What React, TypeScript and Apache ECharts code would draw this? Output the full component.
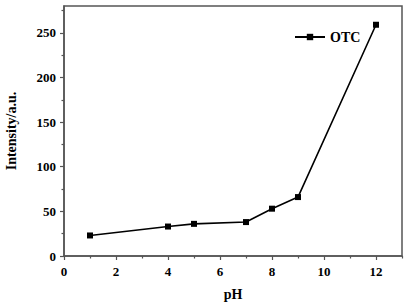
import React, { useEffect, useRef } from "react";
import * as echarts from "echarts";

const phValues = [1, 4, 5, 7, 8, 9, 12];
const intensity = [23, 33, 36, 38, 53, 66, 259];
const xMajorTicks = [0, 2, 4, 6, 8, 10, 12];
const xMinorTicks = [1, 3, 5, 7, 9, 11, 13];
const yMajorTicks = [0, 50, 100, 150, 200, 250];
const yMinorTicks = [25, 75, 125, 175, 225, 275];
const seriesName = "OTC";

const FONT = "Liberation Serif";
const AXIS_COLOR = "#555";

export default function App() {
  const ref = useRef<HTMLDivElement>(null);
  useEffect(() => {
    if (!ref.current) return;
    const chart = echarts.init(ref.current, null, { renderer: "svg" });
    const labelStyle = { color: "#000", fontFamily: FONT, fontWeight: "bold" as const, fontSize: 13 };
    chart.setOption({
      animation: false,
      backgroundColor: "#fff",
      grid: {
        left: 64,
        top: 6,
        right: 4,
        bottom: 48,
        containLabel: false,
        outerBoundsMode: "none",
        show: true,
        borderColor: AXIS_COLOR,
        borderWidth: 1.5,
        backgroundColor: "transparent",
      },
      legend: {
        data: [seriesName],
        left: 289,
        top: 25,
        itemWidth: 30,
        itemHeight: 8,
        textStyle: { ...labelStyle, fontSize: 14 },
      },
      xAxis: [
        {
          type: "value",
          min: 0,
          max: 13,
          name: "pH",
          nameLocation: "middle",
          nameGap: 31,
          nameTextStyle: { ...labelStyle, fontSize: 14 },
          axisLine: { show: true, lineStyle: { color: AXIS_COLOR, width: 1.5 } },
          axisTick: { show: true, customValues: xMajorTicks, length: 4, lineStyle: { color: AXIS_COLOR, width: 1.2 } },
          axisLabel: { customValues: xMajorTicks, margin: 9, ...labelStyle },
          splitLine: { show: false },
        },
        {
          type: "value",
          min: 0,
          max: 13,
          position: "bottom",
          axisLine: { show: false },
          axisTick: { show: true, customValues: xMinorTicks, length: 2.5, lineStyle: { color: AXIS_COLOR, width: 1.2 } },
          axisLabel: { show: false },
          splitLine: { show: false },
        },
      ],
      yAxis: [
        {
          type: "value",
          min: 0,
          max: 280,
          name: "Intensity/a.u.",
          nameLocation: "middle",
          nameGap: 46,
          nameTextStyle: { ...labelStyle, fontSize: 14 },
          axisLine: { show: true, lineStyle: { color: AXIS_COLOR, width: 1.5 } },
          axisTick: { show: true, customValues: yMajorTicks, length: 4, lineStyle: { color: AXIS_COLOR, width: 1.2 } },
          axisLabel: { customValues: yMajorTicks, margin: 8, ...labelStyle },
          splitLine: { show: false },
        },
        {
          type: "value",
          min: 0,
          max: 280,
          position: "left",
          axisLine: { show: false },
          axisTick: { show: true, customValues: yMinorTicks, length: 2.5, lineStyle: { color: AXIS_COLOR, width: 1.2 } },
          axisLabel: { show: false },
          splitLine: { show: false },
        },
      ],
      series: [
        {
          name: seriesName,
          type: "line",
          xAxisIndex: 0,
          yAxisIndex: 0,
          data: phValues.map((x, i) => [x, intensity[i]]),
          symbol: "rect",
          symbolSize: 6,
          itemStyle: { color: "#000" },
          lineStyle: { color: "#000", width: 1.6 },
        },
      ],
    });
    return () => chart.dispose();
  }, []);
  return (
    <div
      ref={ref}
      style={{ position: "absolute", left: 0, top: 0, width: 406, height: 304 }}
    />
  );
}
